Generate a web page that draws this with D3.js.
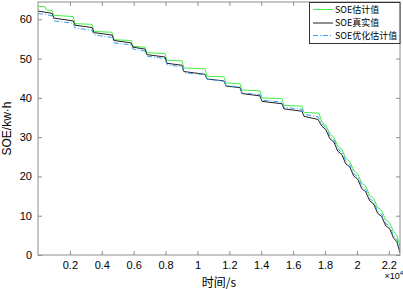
<!DOCTYPE html>
<html>
<head>
<meta charset="utf-8">
<script src="https://cdn.jsdelivr.net/npm/d3@7"></script>
<style>
  body { margin: 0; background: #fff; }
  svg { display: block; }
</style>
</head>
<body>
<div id="chart"></div>
<script>
// 时间 (s) 与 SOE (kW·h)
const timeS = [0, 880, 1000, 2200, 2320, 3390, 3510, 4640, 4770, 5830, 5960, 6710, 6830, 7960, 8090,
  9030, 9150, 10470, 10600, 11660, 11790, 12670, 12790, 13920, 14050, 15300, 15420, 16550, 16680, 17560,
  17800, 18050, 18300, 18550, 18800, 19050, 19300, 19550, 19800, 20050, 20300, 20550, 20800, 21050,
  21300, 21550, 21800, 22050, 22300, 22500, 22700];

const soeTrue = [62.1, 61.5, 60.3, 59.6, 58.5, 57.9, 56.6, 56.0, 54.6, 54.0, 52.9, 52.4, 51.0, 50.4, 48.8,
  48.3, 46.7, 46.0, 44.8, 44.3, 43.0, 42.6, 41.1, 40.5, 39.1, 38.5, 37.2, 36.6, 35.3, 34.5,
  32.8, 31.9, 29.6, 28.8, 26.4, 25.6, 23.2, 22.4, 20.1, 19.3, 16.9, 16.1, 13.8, 13.0,
  10.6, 9.8, 7.5, 6.7, 4.3, 3.4, 0.6];

const soeOpt = [61.5, 60.9, 59.6, 59.0, 57.8, 57.2, 56.0, 55.4, 54.0, 53.5, 52.4, 51.9, 50.6, 50.0, 48.4,
  47.9, 46.4, 45.9, 44.7, 44.3, 43.1, 42.8, 41.3, 40.8, 39.4, 38.9, 37.6, 37.1, 35.8, 35.2,
  33.4, 32.5, 30.2, 29.4, 27.0, 26.2, 23.8, 23.0, 20.7, 19.9, 17.5, 16.7, 14.4, 13.6,
  11.2, 10.4, 8.1, 7.3, 4.9, 4.0, 1.2];

const timeEst = [0, 450, 520, 880, 1000, 2200, 2320, 3390, 3510, 4640, 4770, 5830, 5960, 6710, 6830, 7960,
  8090, 9030, 9150, 10470, 10600, 11660, 11790, 12670, 12790, 13920, 14050, 15300, 15420, 16550, 16680, 17620,
  17800, 18050, 18300, 18550, 18800, 19050, 19300, 19550, 19800, 20050, 20300, 20550, 20800, 21050,
  21300, 21550, 21800, 22050, 22300, 22500, 22700];
const soeEst = [63.3, 63.2, 62.4, 62.2, 61.0, 60.7, 58.9, 58.7, 56.9, 56.7, 54.8, 54.6, 53.1, 52.9, 51.5, 51.3,
  49.6, 49.4, 47.6, 47.4, 45.5, 45.4, 43.8, 43.6, 42.0, 41.8, 40.0, 39.8, 38.1, 37.9, 36.3, 36.1,
  33.9, 33.0, 30.9, 30.0, 27.7, 26.9, 24.6, 23.8, 21.5, 20.6, 18.3, 17.5, 15.2, 14.4,
  12.1, 11.3, 9.0, 8.2, 5.9, 5.0, 2.2];

const xTickVals = [2000, 4000, 6000, 8000, 10000, 12000, 14000, 16000, 18000, 20000, 22000];
const xTickLabels = ["0.2", "0.4", "0.6", "0.8", "1", "1.2", "1.4", "1.6", "1.8", "2", "2.2"];
const yTickVals = [0, 10, 20, 30, 40, 50, 60];
const legendNames = ["SOE估计值", "SOE真实值", "SOE优化估计值"];

const width = 403, height = 289;
const mLeft = 38, mRight = 400, mTop = 2, mBottom = 255;
const axisColor = '#8c8c8c';

const x = d3.scaleLinear().domain([0, 22700]).range([mLeft, mRight]);
const y = d3.scaleLinear().domain([0, 64.4]).range([mBottom, mTop]);

const svg = d3.select('#chart').append('svg')
  .attr('width', width)
  .attr('height', height)
  .style('font-family', 'Arial, "Liberation Sans", sans-serif');

// 曲线
const line = (ts, vs) => d3.line()
  .x((d, i) => x(ts[i]))
  .y(d => y(d))(vs);

const series = [
  {t: timeEst, v: soeEst, color: '#44ee44', dash: null},
  {t: timeS, v: soeTrue, color: '#222', dash: null},
  {t: timeS, v: soeOpt, color: '#3c9cf0', dash: '5,2,1,2'}
];

svg.append('defs').append('clipPath').attr('id', 'clip')
  .append('rect').attr('x', mLeft).attr('y', mTop)
  .attr('width', mRight - mLeft).attr('height', mBottom - mTop);

const plot = svg.append('g').attr('clip-path', 'url(#clip)');
series.forEach(s => {
  plot.append('path')
    .attr('d', line(s.t, s.v))
    .attr('fill', 'none')
    .attr('stroke', s.color)
    .attr('stroke-width', 1)
    .attr('stroke-dasharray', s.dash);
});

// 坐标轴 (刻度朝内)
const tickLen = 4;
const xAxis = svg.append('g')
  .attr('transform', `translate(0,${mBottom})`)
  .call(d3.axisBottom(x).tickValues(xTickVals)
    .tickFormat((d, i) => xTickLabels[i])
    .tickSizeInner(-tickLen).tickSizeOuter(0).tickPadding(6));
const xTop = svg.append('g')
  .attr('transform', `translate(0,${mTop})`)
  .call(d3.axisTop(x).tickValues(xTickVals).tickFormat('')
    .tickSizeInner(-tickLen).tickSizeOuter(0));
const yAxis = svg.append('g')
  .attr('transform', `translate(${mLeft},0)`)
  .call(d3.axisLeft(y).tickValues(yTickVals)
    .tickSizeInner(-tickLen).tickSizeOuter(0).tickPadding(6));
const yRight = svg.append('g')
  .attr('transform', `translate(${mRight},0)`)
  .call(d3.axisRight(y).tickValues(yTickVals).tickFormat('')
    .tickSizeInner(-tickLen).tickSizeOuter(0));

[xAxis, xTop, yAxis, yRight].forEach(g => {
  g.select('.domain').remove();
  g.selectAll('.tick line').attr('stroke', axisColor);
  g.selectAll('.tick text').attr('fill', '#000')
    .style('font-size', '11px')
    .style('font-family', 'Arial, "Liberation Sans", sans-serif');
});

svg.append('rect')
  .attr('x', mLeft).attr('y', mTop)
  .attr('width', mRight - mLeft).attr('height', mBottom - mTop)
  .attr('fill', 'none').attr('stroke', axisColor).attr('stroke-width', 1);

// ×10^4
const expo = svg.append('text')
  .attr('x', 403).attr('y', 279)
  .attr('text-anchor', 'end')
  .style('font-size', '9px');
expo.append('tspan').text('×10');
expo.append('tspan').attr('dy', -4).style('font-size', '6px').text('4');

// 轴标题
svg.append('text')
  .attr('x', (mLeft + mRight) / 2).attr('y', 287)
  .attr('text-anchor', 'middle')
  .style('font-size', '12px')
  .style('font-family', '"Noto Sans CJK SC", sans-serif')
  .text('时间/s');

svg.append('text')
  .attr('transform', `translate(11,${(mTop + mBottom) / 2}) rotate(-90)`)
  .attr('text-anchor', 'middle')
  .style('font-size', '12px')
  .text('SOE/kw·h');

// 图例
const lg = svg.append('g');
lg.append('rect')
  .attr('x', 309.5).attr('y', mTop + 0.5)
  .attr('width', mRight - 309.5).attr('height', 41)
  .attr('fill', '#fff').attr('stroke', '#333').attr('stroke-width', 1);
const legendY = [9.5, 23, 35.5];
series.forEach((s, i) => {
  lg.append('line')
    .attr('x1', 313).attr('x2', 333)
    .attr('y1', legendY[i]).attr('y2', legendY[i])
    .attr('stroke', s.color).attr('stroke-width', 1)
    .attr('stroke-dasharray', s.dash);
  lg.append('text')
    .attr('x', 335).attr('y', legendY[i])
    .attr('dy', '0.35em')
    .style('font-size', '9px')
    .style('font-family', '"Noto Sans CJK SC", sans-serif')
    .text(legendNames[i]);
});
</script>
</body>
</html>
